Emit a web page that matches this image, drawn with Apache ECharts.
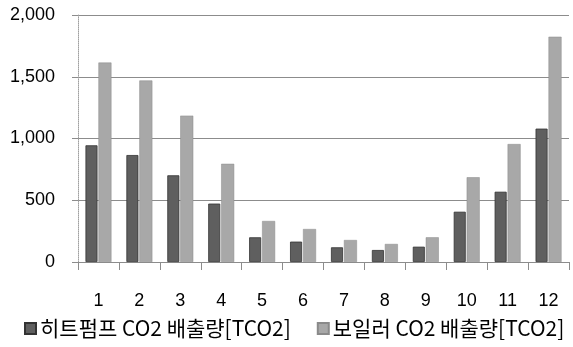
<!DOCTYPE html>
<html><head><meta charset="utf-8">
<script src="https://cdn.jsdelivr.net/npm/echarts@6/dist/echarts.min.js"></script>
<style>html,body{margin:0;padding:0;background:#fff}#c{width:573px;height:347px}</style>
</head><body><div id="c"></div>
<script>
const categories = ['1','2','3','4','5','6','7','8','9','10','11','12'];
const heatPump = [945, 866, 702, 473, 200, 165, 119, 97, 124, 407, 569, 1080];
const boiler = [1615, 1470, 1185, 795, 332, 267, 178, 146, 200, 686, 955, 1824];
const seriesNames = ['히트펌프 CO2 배출량[TCO2]', '보일러 CO2 배출량[TCO2]'];
const yTicks = [0, 500, 1000, 1500, 2000];

const chart = echarts.init(document.getElementById('c'));
chart.setOption({
  animation: false,
  grid: {left: 78, right: 4, top: 15, bottom: 85},
  legend: {
    left: 19, top: 313, itemWidth: 11, itemHeight: 11, itemGap: 26,
    icon: 'rect',
    textStyle: {fontFamily: 'Noto Sans CJK KR', fontSize: 21, color: '#000', padding: [0,0,0,-1]},
    data: seriesNames
  },
  xAxis: {
    type: 'category', data: categories,
    axisLine: {lineStyle: {color: '#8c8c8c'}},
    axisTick: {show: true, length: 8, lineStyle: {color: '#8c8c8c'}},
    axisLabel: {margin: 30, fontFamily: 'Liberation Sans', fontSize: 18, color: '#000'}
  },
  yAxis: {
    type: 'value', min: 0, max: 2000, interval: 500,
    axisLine: {show: true, lineStyle: {color: '#a0a0a0', type: 'dotted'}},
    axisTick: {show: true, length: 6, lineStyle: {color: '#8c8c8c'}},
    splitLine: {lineStyle: {color: '#8c8c8c', width: 1.2}},
    axisLabel: {margin: 23, fontFamily: 'Liberation Sans', fontSize: 18, color: '#000',
      formatter: v => v.toLocaleString('en-US')}
  },
  series: [
    {name: seriesNames[0], type: 'bar', data: heatPump, barWidth: 12, barGap: '8%',
     itemStyle: {color: '#5f5f5f', borderColor: '#333', borderWidth: 0.8}},
    {name: seriesNames[1], type: 'bar', data: boiler, barWidth: 13,
     itemStyle: {color: '#a8a8a8', borderColor: '#8a8a8a', borderWidth: 0.5}}
  ]
});
</script></body></html>
